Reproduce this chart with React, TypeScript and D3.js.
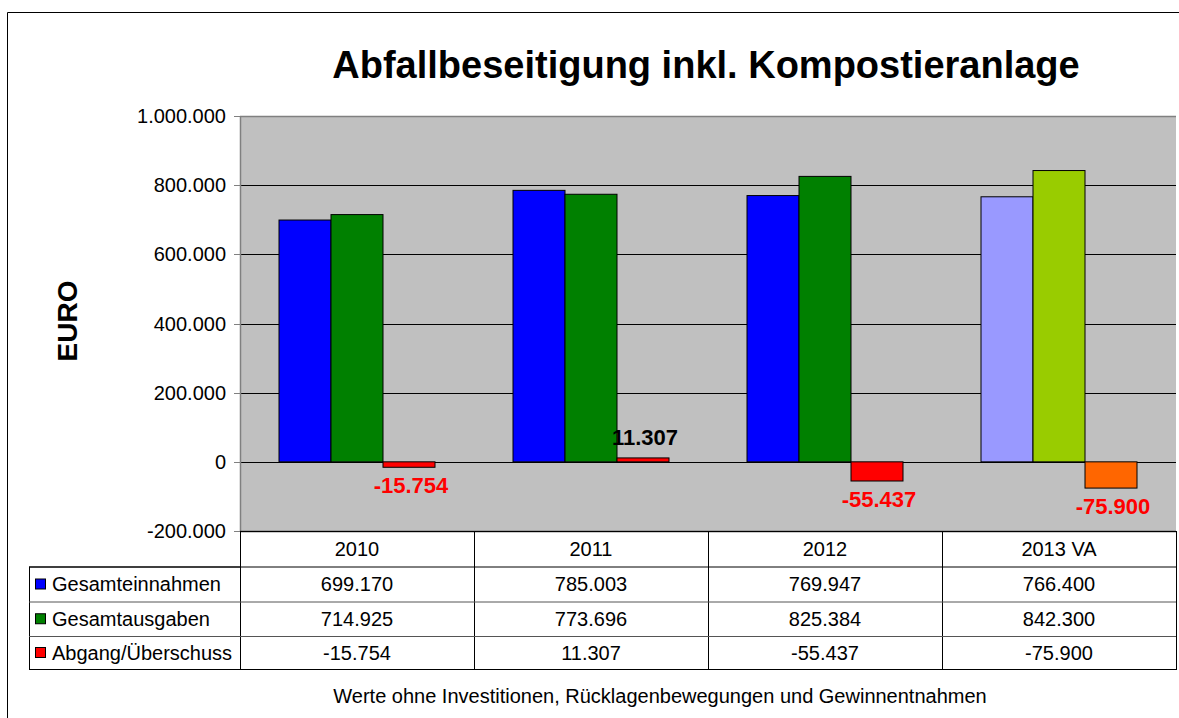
import React from 'react';
import * as d3 from 'd3';

const title = 'Abfallbeseitigung inkl. Kompostieranlage';
const years = ['2010', '2011', '2012', '2013 VA'];
const seriesNames = ['Gesamteinnahmen', 'Gesamtausgaben', 'Abgang/Überschuss'];
const einnahmen = [699170, 785003, 769947, 766400];
const ausgaben = [714925, 773696, 825384, 842300];
const saldo = [-15754, 11307, -55437, -75900];
const yTicks = [-200000, 0, 200000, 400000, 600000, 800000, 1000000];
const legendColors = ['#0000FF', '#008000', '#FF0000'];
// the plan year (2013 VA) is drawn in other colours
const planColors = ['#9999FF', '#99CC00', '#FF6600'];
const footnote = 'Werte ohne Investitionen, Rücklagenbewegungen und Gewinnentnahmen';

const de = d3.formatLocale({ decimal: ',', thousands: '.', grouping: [3], currency: ['', '€'], minus: '-' });
const fmt = de.format(',d');

const W = 1179;
const H = 718;
const left = 240;
const right = 1176;
const top = 116;
const bottom = 531;
const rowY = [531, 566.5, 601.5, 636, 669];
const font = '"Liberation Sans", Arial, sans-serif';
const fs = 20;

export default function App() {
  const values = [einnahmen, ausgaben, saldo];
  const x = d3.scaleBand().domain(years).range([left, right]);
  const bw = x.bandwidth();
  const gap = (bw * 1.5) / 4.5;
  const x1 = d3.scaleBand().domain(seriesNames).range([gap / 2, bw - gap / 2]);
  const y = d3.scaleLinear().domain([-200000, 1000000]).range([bottom, top]);

  return (
    <div style={{ position: 'fixed', left: 0, top: 0 }}>
      <svg width={W} height={H} style={{ display: 'block', fontFamily: font }}>
        <rect x={0} y={0} width={W} height={H} fill="#fff" />
        <path d={`M7.5,${H + 2} V12.5 H${W + 2}`} fill="none" stroke="#000" />

        <text x={706} y={78} textAnchor="middle" fontSize={38} fontWeight="bold">{title}</text>

        <text transform="translate(77,321) rotate(-90)" textAnchor="middle" fontSize={28} fontWeight="bold">EURO</text>

        <rect x={left} y={top} width={right - left} height={bottom - top} fill="#C0C0C0" />
        {yTicks.map((t) => (
          <g key={t}>
            {t !== 1000000 && t !== -200000 && (
              <line x1={left} x2={right} y1={Math.round(y(t)) + 0.5} y2={Math.round(y(t)) + 0.5} stroke="#000" />
            )}
            <line x1={234} x2={left} y1={Math.round(y(t)) + 0.5} y2={Math.round(y(t)) + 0.5} stroke="#808080" />
            <text x={226} y={y(t) + 7} textAnchor="end" fontSize={fs}>{fmt(t)}</text>
          </g>
        ))}
        <line x1={left} x2={right} y1={top + 0.5} y2={top + 0.5} stroke="#808080" strokeWidth={1.5} />
        <line x1={left + 0.5} x2={left + 0.5} y1={top} y2={bottom} stroke="#808080" strokeWidth={1.5} />

        {years.map((yr, i) => (
          <g key={yr} transform={`translate(${x(yr)},0)`}>
            {seriesNames.map((s, j) => {
              const v = values[j][i];
              const y0 = y(Math.max(0, v));
              const h = Math.abs(y(v) - y(0));
              const fill = i === years.length - 1 ? planColors[j] : legendColors[j];
              return (
                <rect key={s} x={x1(s)} y={y0} width={x1.bandwidth()} height={h} fill={fill} stroke="#000" strokeWidth={1} />
              );
            })}
            <text
              x={(x1(seriesNames[2]) as number) + x1.bandwidth() / 2 + 2}
              y={saldo[i] < 0 ? y(saldo[i]) + 26 : y(saldo[i]) - 13}
              textAnchor="middle"
              fontSize={22}
              fontWeight="bold"
              fill={saldo[i] < 0 ? '#FF0000' : '#000'}
            >
              {fmt(saldo[i])}
            </text>
          </g>
        ))}
        <line x1={left} x2={right} y1={bottom + 0.5} y2={bottom + 0.5} stroke="#333" strokeWidth={1.5} />

        {/* data table */}
        <g fill="none" stroke="#000">
          <rect x={left + 0.5} y={rowY[0] + 0.5} width={right - left} height={rowY[4] - rowY[0]} />
          <rect x={29.5} y={rowY[1] + 0.5} width={left - 29} height={rowY[4] - rowY[1]} />
          {years.slice(1).map((yr) => (
            <line key={yr} x1={(x(yr) as number) + 0.5} x2={(x(yr) as number) + 0.5} y1={rowY[0]} y2={rowY[4]} />
          ))}
          <line x1={29} x2={right} y1={rowY[1] + 0.5} y2={rowY[1] + 0.5} />
          <line x1={29} x2={right} y1={rowY[2] + 0.5} y2={rowY[2] + 0.5} stroke="#555" />
          <line x1={29} x2={right} y1={rowY[3] + 0.5} y2={rowY[3] + 0.5} stroke="#555" />
        </g>
        {years.map((yr) => (
          <text key={yr} x={(x(yr) as number) + bw / 2} y={(rowY[0] + rowY[1]) / 2 + 7} textAnchor="middle" fontSize={fs}>{yr}</text>
        ))}
        {seriesNames.map((s, j) => {
          const cy = (rowY[j + 1] + rowY[j + 2]) / 2;
          return (
            <g key={s}>
              <rect x={35.5} y={cy - 5} width={10} height={10} fill={legendColors[j]} stroke="#000" />
              <text x={52} y={cy + 7} fontSize={fs}>{s}</text>
              {years.map((yr, i) => (
                <text key={yr} x={(x(yr) as number) + bw / 2} y={cy + 7} textAnchor="middle" fontSize={fs}>{fmt(values[j][i])}</text>
              ))}
            </g>
          );
        })}

        <text x={660} y={703} textAnchor="middle" fontSize={fs}>{footnote}</text>
      </svg>
    </div>
  );
}
